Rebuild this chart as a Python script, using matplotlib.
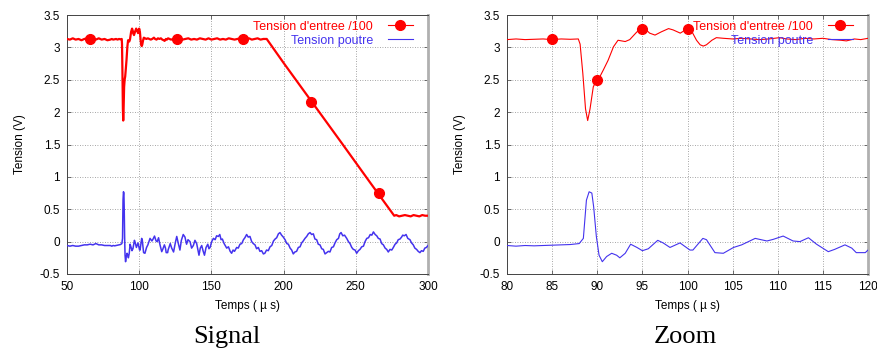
import matplotlib
matplotlib.use("Agg")
import matplotlib.pyplot as plt
from matplotlib.lines import Line2D

# ---------------- data ----------------
# input voltage / 100 (red trace)
t_in = [50, 52, 54, 56, 58, 60, 62, 64, 66, 68, 70, 72, 74, 76, 78,
        80, 81, 82, 83, 84, 85, 86, 87, 87.9, 88.1, 88.4, 88.7, 88.94, 89.2,
        89.56, 89.97, 90.3, 90.67, 91.2, 91.8, 92.3, 92.7, 93.1, 93.6, 94.0,
        94.4, 95.07, 95.5, 95.8, 96.4, 97.1, 97.9, 98.4, 99.2, 100, 100.5,
        101, 101.4, 101.75, 102.1, 102.7, 103.2, 104, 105, 106, 107, 108, 109,
        110.2, 111, 112, 113, 114, 115, 116, 117, 117.6, 118.5, 119.2, 120,
        122, 124, 126, 128, 130, 132, 134, 136, 138, 140, 142, 144, 146, 148,
        150, 152, 154, 156, 158, 160, 162, 164, 166, 168, 170, 172, 174, 176,
        178, 180, 182, 184, 186, 188.3, 200, 220, 240, 260, 276.6,
        278, 280, 282, 284, 286, 288, 290, 292, 294, 296, 298, 300]
v_in = [3.13, 3.12, 3.14, 3.12, 3.13, 3.11, 3.13, 3.14, 3.12, 3.13, 3.12, 3.14, 3.12, 3.13, 3.11,
        3.12, 3.13, 3.12, 3.125, 3.13, 3.12, 3.13, 3.125, 3.13, 3.05, 2.60, 2.05, 1.87, 2.05,
        2.39, 2.51, 2.55, 2.65, 2.80, 3.01, 3.11, 3.10, 3.09, 3.12, 3.18,
        3.24, 3.29, 3.26, 3.22, 3.19, 3.24, 3.29, 3.27, 3.22, 3.29, 3.24,
        3.11, 3.04, 3.02, 3.04, 3.11, 3.15, 3.14, 3.13, 3.14, 3.13, 3.12, 3.13,
        3.15, 3.13, 3.12, 3.14, 3.13, 3.14, 3.12, 3.11, 3.10, 3.13, 3.12, 3.14,
        3.12, 3.13, 3.11, 3.14, 3.12, 3.13, 3.14, 3.12, 3.13, 3.12, 3.14, 3.13, 3.12, 3.14,
        3.12, 3.13, 3.14, 3.12, 3.13, 3.12, 3.14, 3.13, 3.12, 3.13, 3.14, 3.12, 3.13, 3.14,
        3.12, 3.13, 3.14, 3.12, 3.13, 3.13, 2.76, 2.145, 1.53, 0.91, 0.40,
        0.41, 0.39, 0.40, 0.41, 0.40, 0.39, 0.41, 0.40, 0.39, 0.41, 0.40, 0.40]

# markers on the input trace
t_mk_signal = [66, 126, 172, 219, 266]
v_mk_signal = [3.13, 3.13, 3.13, 2.16, 0.75]
t_mk_zoom = [85, 90, 95, 100]
v_mk_zoom = [3.13, 2.50, 3.28, 3.29]

# beam voltage (blue trace)
t_beam = [50, 52, 54, 56, 58, 60, 62, 64, 66, 68, 70, 72, 74, 76, 78,
          80, 81, 82, 83, 84, 85, 86, 87, 88, 88.46, 88.8, 89.1, 89.4, 89.6,
          89.9, 90.2, 90.56, 91.04, 91.6, 92.15, 92.5, 93.1, 93.7, 94.4, 95.0,
          95.66, 96.7, 97.3, 98.06, 99.17, 100.27, 100.6, 101.7, 102.1, 103.04,
          103.97, 105.1, 106, 107.5, 108.8, 109.5, 110.6, 111.7, 112.46, 113.4,
          114.3, 115.6, 116.3, 117.45, 118.2, 118.7, 119.7, 120,
          121.5, 122.5, 123.8, 125, 126, 127, 128.2, 129.2, 130.5, 131.7, 132.8,
          133.8, 135.2, 136.3, 137.5, 138.6, 139.8, 140.6, 141.4, 142.3, 143.3,
          144.2, 145.2, 146.3, 147.5, 148.3, 149.1, 150.2, 151.4, 152.6, 153.6,
          154.8, 155.8, 156.7, 157.6, 158.8, 159.6, 160.6, 161.8, 163, 164, 165,
          166, 167.5, 168.6, 169.8, 171, 172.2, 173.2, 174.4, 175.5, 176.7,
          177.9, 179, 180.2, 181.3, 182.5, 183.6, 184.8, 186, 187, 188.2, 189.4,
          190.6, 191.8, 193, 194.1, 195.2, 196.4, 197.5, 198.6, 199.8, 201,
          202.2, 203.3, 204.5, 205.6, 206.7, 207.8, 209, 210.2, 211.4, 212.5,
          213.6, 214.8, 216, 217.1, 218.3, 219.4, 220.6, 221.7, 222.9, 224,
          225.2, 226.4, 227.5, 228.7, 229.8, 231, 232.1, 233.3, 234.5, 235.6,
          236.8, 238, 238.9, 239.8, 241, 242.2, 243.7, 244.9, 246, 247.2, 248.3,
          249.5, 250.6, 251.8, 252.9, 254.1, 255.3, 256.4, 257.6, 258.8, 260,
          261.1, 262.2, 263.4, 264.5, 265.6, 266.8, 267.9, 269.1, 270.3, 271.4,
          272.5, 273.7, 274.9, 276, 277.2, 278.3, 279.4, 280.6, 281.7, 282.5,
          283.6, 284.8, 286, 287.5, 288.6, 289.8, 290.9, 292.1, 293.2, 294.4,
          295.5, 296.7, 297.8, 298.9, 300]
v_beam = [-0.06, -0.07, -0.06, -0.07, -0.07, -0.06, -0.05, -0.05, -0.04, -0.05, -0.03, -0.05, -0.05, -0.06, -0.06,
          -0.06, -0.07, -0.06, -0.065, -0.06, -0.055, -0.05, -0.045, -0.03, 0.05, 0.64, 0.77, 0.75, 0.54,
          0.08, -0.21, -0.31, -0.23, -0.18, -0.21, -0.25, -0.18, -0.04, -0.09, -0.14,
          -0.11, 0.02, -0.02, -0.09, -0.02, -0.13, -0.13, 0.05, 0.03, -0.17,
          -0.18, -0.09, -0.05, 0.05, 0.01, 0.035, 0.086, 0.01, 0.0, 0.06,
          -0.04, -0.155, -0.12, -0.05, -0.10, -0.17, -0.17, -0.13,
          -0.03, -0.10, -0.16, -0.02, 0.08, -0.02, -0.13, 0.02, 0.11, 0.07, -0.04,
          0.03, 0.00, -0.10, -0.06, 0.02, -0.03, -0.12, -0.21, -0.10, -0.06,
          -0.14, -0.21, -0.09, -0.04, -0.11, -0.09, 0.00, 0.05, 0.03, 0.09,
          0.08, 0.11, 0.03, 0.04, -0.03, -0.06, -0.10, -0.08, -0.15, -0.18, -0.13,
          -0.15, -0.09, -0.10, -0.04, -0.03, 0.03, 0.06, 0.11, 0.07, 0.08,
          0.00, -0.03, -0.05, -0.11, -0.09, -0.15, -0.14, -0.19, -0.18, -0.13, -0.14,
          -0.08, -0.06, 0.01, 0.04, 0.06, 0.12, 0.14, 0.10, 0.07, 0.03,
          -0.03, -0.04, -0.10, -0.13, -0.19, -0.16, -0.15, -0.09, -0.08, -0.02,
          0.01, 0.05, 0.08, 0.12, 0.14, 0.11, 0.12, 0.04, 0.03, -0.04,
          -0.05, -0.11, -0.12, -0.19, -0.17, -0.15, -0.16, -0.09, -0.08, -0.02,
          0.03, 0.05, 0.12, 0.14, 0.09, 0.10, 0.05, 0.00, -0.03, -0.09, -0.12,
          -0.13, -0.18, -0.14, -0.12, -0.08, -0.07, 0.00, 0.05, 0.06, 0.11,
          0.10, 0.15, 0.11, 0.09, 0.05, 0.04, -0.03, -0.05, -0.10, -0.12,
          -0.16, -0.12, -0.13, -0.09, -0.04, -0.02, 0.03, 0.04, 0.07, 0.10,
          0.09, 0.11, 0.05, 0.03, -0.02, -0.05, -0.10, -0.12, -0.15, -0.17,
          -0.14, -0.15, -0.10, -0.09, -0.06]

yticks = [-0.5, 0, 0.5, 1, 1.5, 2, 2.5, 3, 3.5]
ytick_labels = ["-0.5", "0", "0.5", "1", "1.5", "2", "2.5", "3", "3.5"]
xticks_signal = [50, 100, 150, 200, 250, 300]
xticks_zoom = [80, 85, 90, 95, 100, 105, 110, 115, 120]
panel_titles = ["Signal", "Zoom"]
label_in = "Tension d'entree /100"
label_beam = "Tension poutre"

# ---------------- style ----------------
RED = "#ff0000"
BLUE = "#4433ee"
plt.rcParams["font.family"] = ["Liberation Sans", "DejaVu Sans"]

fig = plt.figure(figsize=(8.77, 3.49), dpi=100)
W, H = 877, 349
axes = [
    fig.add_axes([67 / W, 1 - 274 / H, 361 / W, 259 / H]),
    fig.add_axes([507 / W, 1 - 274 / H, 361 / W, 259 / H]),
]

configs = [
    (axes[0], (50, 300), xticks_signal, t_mk_signal, v_mk_signal, 1.6, 1.1),
    (axes[1], (80, 120), xticks_zoom, t_mk_zoom, v_mk_zoom, 0.8, 0.8),
]

for ax, xlim, xt, tm, vm, lw_r, lw_b in configs:
    ax.plot(t_in, v_in, color=RED, lw=lw_r, zorder=3)
    ax.plot(tm, vm, "o", color=RED, ms=7, zorder=4)
    ax.plot(t_beam, v_beam, color=BLUE, lw=lw_b, zorder=3)
    ax.set_xlim(*xlim)
    ax.set_ylim(-0.5, 3.5)
    ax.set_xticks(xt)
    ax.set_xticklabels([str(v) for v in xt])
    ax.set_yticks(yticks)
    ax.set_yticklabels(ytick_labels)
    ax.grid(True, color="#888888", linestyle=(0, (1, 2)), lw=0.6)
    ax.tick_params(direction="in", top=True, right=True, length=3,
                   width=0.6, labelsize=8.5, pad=5, color="#555555")
    for s in ["left", "bottom", "top"]:
        ax.spines[s].set_linewidth(0.7)
        ax.spines[s].set_color("#444444")
    ax.spines["right"].set_linewidth(2.0)
    ax.spines["right"].set_color("#b0b0b0")
    ax.set_xlabel("Temps ( \u00b5 s)", fontsize=8.5, labelpad=5)
    ax.set_ylabel("Tension (V)", fontsize=8.5, labelpad=10)

    h1 = Line2D([], [], color=RED, lw=0.8, marker="o", ms=7)
    h2 = Line2D([], [], color=BLUE, lw=0.8)
    ax.legend([h1, h2], [label_in, label_beam], loc="upper right",
              bbox_to_anchor=(0.958, 0.978), frameon=False, markerfirst=False,
              fontsize=9, labelcolor="linecolor", handlelength=2.0,
              handletextpad=1.2, borderpad=0, borderaxespad=0, labelspacing=0.15)

fig.text(227 / W, 1 - 343 / H, panel_titles[0], family="Liberation Serif",
         fontsize=19, ha="center", va="baseline")
fig.text(685 / W, 1 - 343 / H, panel_titles[1], family="Liberation Serif",
         fontsize=19, ha="center", va="baseline")

fig.savefig("out.png", dpi=100)
